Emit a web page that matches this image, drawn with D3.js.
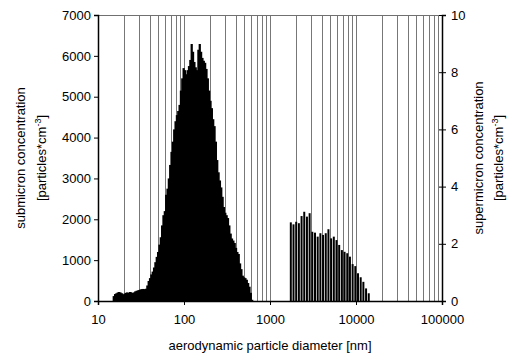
<!DOCTYPE html>
<html>
<head>
<meta charset="utf-8">
<script src="https://cdn.jsdelivr.net/npm/d3@7"></script>
<style>
  body { margin: 0; background: #fff; }
  text { font-family: "Liberation Sans", Arial, sans-serif; }
</style>
</head>
<body>
<div id="chart"></div>
<script>
// SMPS channels (64 per decade) starting at ~14.8 nm, values in particles/cm3
const subLowerEdge = 14.8
const subChannelsPerDecade = 64
const subValues = [
  120, 170, 190, 210, 220, 210, 190, 165, 180, 200,
  210, 200, 220, 215, 195, 210, 235, 250, 260, 270,
  285, 290, 295, 290, 300, 380, 490, 560, 650, 720,
  820, 950, 1080, 1200, 1380, 1560, 1850, 2100, 2200, 2600,
  2750, 3000, 3330, 3650, 3900, 4200, 4400, 4550, 4650, 4800,
  5150, 5450, 5700, 5650, 5550, 5650, 5750, 5900, 6290, 6100,
  5850, 5720, 5650, 6150, 6290, 6100, 5950, 5880, 5830, 5680,
  5450, 5150, 4900, 4720, 4450, 4280, 3900, 3450, 3150, 2950,
  2780, 2550, 2300, 2160, 2100, 2030, 1850, 1650, 1530, 1480,
  1420, 1300, 1200, 1150, 920, 780, 620, 580, 560, 520,
  440, 350, 200, 30
]

// APS channels (32 per decade) starting at ~1700 nm, right axis
const supLowerEdge = 1700
const supChannelsPerDecade = 32
const supValues = [
  2.75, 2.68, 2.77, 2.72, 2.97, 3.12, 2.95, 3.07, 2.42, 2.39,
  2.25, 2.37, 2.31, 2.37, 2.51, 2.19, 2.25, 2.13, 1.96, 1.78,
  1.72, 1.67, 1.55, 1.29, 1.22, 0.97, 0.83, 0.67, 0.44, 0.27
]

const xTickLabels = [10, 100, 1000, 10000, 100000]
const yLeftTicks = [0, 1000, 2000, 3000, 4000, 5000, 6000, 7000]
const yRightTicks = [0, 2, 4, 6, 8, 10]

const width = 507, height = 360
const margin = { top: 15, right: 65, bottom: 59, left: 98 }

const svg = d3.select("#chart").append("svg")
  .attr("width", width)
  .attr("height", height)

const x = d3.scaleLog().domain([10, 100000]).range([margin.left, width - margin.right])
const yL = d3.scaleLinear().domain([0, 7000]).range([height - margin.bottom, margin.top])
const yR = d3.scaleLinear().domain([0, 10]).range([height - margin.bottom, margin.top])

const x0 = x.range()[0], x1 = x.range()[1]
const yBottom = yL.range()[0], yTop = yL.range()[1]

function bins(lower, perDecade, values) {
  const step = Math.pow(10, 1 / perDecade)
  return values.map((v, i) => ({
    lo: lower * Math.pow(step, i),
    hi: lower * Math.pow(step, i + 1),
    value: v
  }))
}

// vertical grid lines at every log tick
const gridVals = x.ticks().filter(v => v > 10 && v < 100000)
svg.append("g")
  .selectAll("line")
  .data(gridVals)
  .enter().append("line")
  .attr("x1", d => Math.round(x(d)) + 0.5)
  .attr("x2", d => Math.round(x(d)) + 0.5)
  .attr("y1", yTop)
  .attr("y2", yBottom)
  .style("stroke", "#777")
  .style("stroke-width", 1)

// top border
svg.append("line")
  .attr("x1", x0).attr("x2", x1)
  .attr("y1", yTop + 0.5).attr("y2", yTop + 0.5)
  .style("stroke", "#707070")

// submicron bars (overlapping so the block stays solid)
svg.append("g")
  .selectAll("rect")
  .data(bins(subLowerEdge, subChannelsPerDecade, subValues))
  .enter().append("rect")
  .attr("x", d => x(d.lo))
  .attr("width", d => x(d.hi) - x(d.lo) + 0.9)
  .attr("y", d => yL(d.value))
  .attr("height", d => yBottom - yL(d.value))
  .style("fill", "#000")

// supermicron bars
svg.append("g")
  .selectAll("rect")
  .data(bins(supLowerEdge, supChannelsPerDecade, supValues))
  .enter().append("rect")
  .attr("x", d => x(d.lo))
  .attr("width", d => x(d.hi) - x(d.lo) - 0.7)
  .attr("y", d => yR(d.value))
  .attr("height", d => yBottom - yR(d.value))
  .style("fill", "#000")

// axes
const xAxis = d3.axisBottom(x)
  .tickValues(xTickLabels)
  .tickFormat(d3.format("d"))
  .tickSize(4)
  .tickPadding(10)
svg.append("g")
  .attr("transform", "translate(0," + yBottom + ")")
  .call(xAxis)

const leftAxis = d3.axisLeft(yL)
  .tickValues(yLeftTicks)
  .tickFormat(d3.format("d"))
  .tickSize(4)
  .tickPadding(3)
svg.append("g")
  .attr("transform", "translate(" + x0 + ",0)")
  .call(leftAxis)

const rightAxis = d3.axisRight(yR)
  .tickValues(yRightTicks)
  .tickFormat(d3.format("d"))
  .tickSize(4)
  .tickPadding(5)
svg.append("g")
  .attr("class", "right")
  .attr("transform", "translate(" + x1 + ",0)")
  .call(rightAxis)

// right ticks cross the axis a little
svg.selectAll(".right .tick line").attr("x1", -3)

svg.selectAll(".domain")
  .style("stroke", "#000")
  .style("stroke-width", 1.5)
svg.selectAll(".tick line").style("stroke", "#000")
svg.selectAll(".tick text")
  .style("font-size", "13px")
  .style("fill", "#000")
  .style("font-family", "'Liberation Sans', Arial, sans-serif")

// axis titles
svg.append("text")
  .attr("x", (x0 + x1) / 2)
  .attr("y", 350)
  .attr("text-anchor", "middle")
  .style("font-size", "13px")
  .text("aerodynamic particle diameter [nm]")

const yMid = (yTop + yBottom) / 2

function unitLabel(g) {
  g.append("tspan").text("[particles*cm")
  g.append("tspan").attr("dy", -5).style("font-size", "9px").text("-3")
  g.append("tspan").attr("dy", 5).text("]")
}

svg.append("text")
  .attr("transform", "translate(25," + yMid + ") rotate(-90)")
  .attr("text-anchor", "middle")
  .style("font-size", "13px")
  .text("submicron concentration")

svg.append("text")
  .attr("transform", "translate(46," + yMid + ") rotate(-90)")
  .attr("text-anchor", "middle")
  .style("font-size", "13px")
  .call(unitLabel)

svg.append("text")
  .attr("transform", "translate(483," + yMid + ") rotate(-90)")
  .attr("text-anchor", "middle")
  .style("font-size", "13px")
  .text("supermicron concentration")

svg.append("text")
  .attr("transform", "translate(503," + yMid + ") rotate(-90)")
  .attr("text-anchor", "middle")
  .style("font-size", "13px")
  .call(unitLabel)
</script>
</body>
</html>
